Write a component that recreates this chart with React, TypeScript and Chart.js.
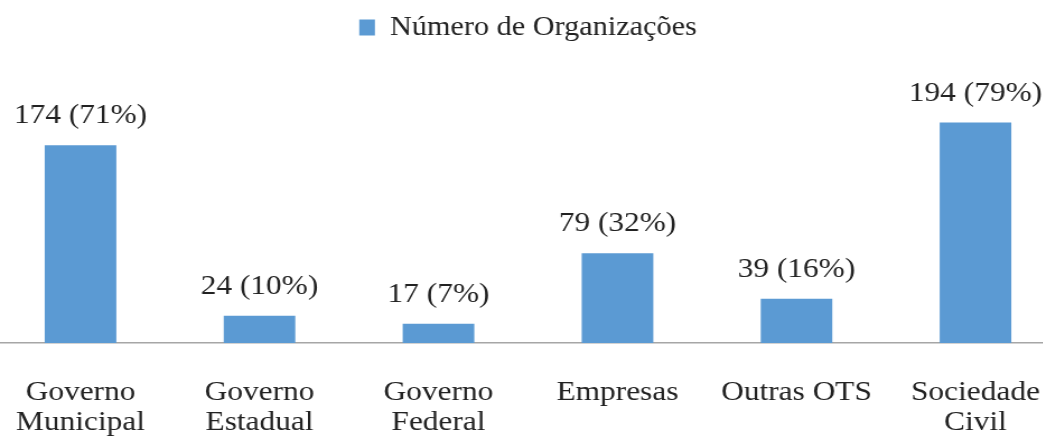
import React, { useEffect, useRef } from "react";
import { Chart, registerables } from "chart.js";

Chart.register(...registerables);

const categories: (string | string[])[] = [
  ["Governo", "Municipal"],
  ["Governo", "Estadual"],
  ["Governo", "Federal"],
  "Empresas",
  "Outras OTS",
  ["Sociedade", "Civil"],
];
const counts = [174, 24, 17, 79, 39, 194];
const percents = [71, 10, 7, 32, 16, 79];
const seriesName = "Número de Organizações";

const FONT = "'Liberation Serif', 'Times New Roman', serif";
const TEXT = "#222222";
const BAR = "#5B9AD3";

const valueLabels = {
  id: "valueLabels",
  afterDatasetsDraw(chart: any) {
    const ctx = chart.ctx;
    const meta = chart.getDatasetMeta(0);
    ctx.save();
    ctx.font = `28px ${FONT}`;
    ctx.fillStyle = TEXT;
    ctx.textAlign = "center";
    ctx.textBaseline = "alphabetic";
    meta.data.forEach((bar: any, i: number) => {
      ctx.fillText(`${counts[i]} (${percents[i]}%)`, bar.x, bar.y - 22);
    });
    ctx.restore();
  },
};

export default function App() {
  const ref = useRef<HTMLCanvasElement>(null);
  useEffect(() => {
    if (!ref.current) return;
    const chart = new Chart(ref.current, {
      type: "bar",
      data: {
        labels: categories,
        datasets: [
          {
            label: seriesName,
            data: counts,
            backgroundColor: BAR,
            borderWidth: 0,
            categoryPercentage: 0.8,
            barPercentage: 0.5,
          },
        ],
      },
      options: {
        animation: false,
        responsive: false,
        devicePixelRatio: 1,
        layout: { padding: 0 },
        plugins: {
          legend: {
            display: true,
            position: "top",
            labels: {
              font: { family: FONT, size: 27 },
              color: TEXT,
              boxWidth: 14,
              boxHeight: 16,
              padding: 14,
            },
          },
          tooltip: { enabled: false },
        },
        scales: {
          x: {
            grid: { display: false, drawTicks: true, tickLength: 35, tickColor: "rgba(0,0,0,0)" },
            border: { display: true, color: "#a6a6a6", width: 1.5 },
            ticks: {
              font: { family: FONT, size: 28, lineHeight: 1.07 },
              color: TEXT,
              padding: 0,
              maxRotation: 0,
              autoSkip: false,
            },
          },
          y: {
            display: false,
            min: 0,
            max: 257,
          },
        },
      },
      plugins: [valueLabels],
    });
    return () => chart.destroy();
  }, []);

  return (
    <div
      style={{
        position: "fixed",
        left: 0,
        top: 0,
        width: 1043,
        height: 438,
        overflow: "hidden",
        background: "#ffffff",
      }}
    >
      <canvas
        ref={ref}
        width={959}
        height={438}
        style={{ position: "absolute", left: "-9.5px", top: 0, width: "1074px", height: "438px" }}
      />
    </div>
  );
}
